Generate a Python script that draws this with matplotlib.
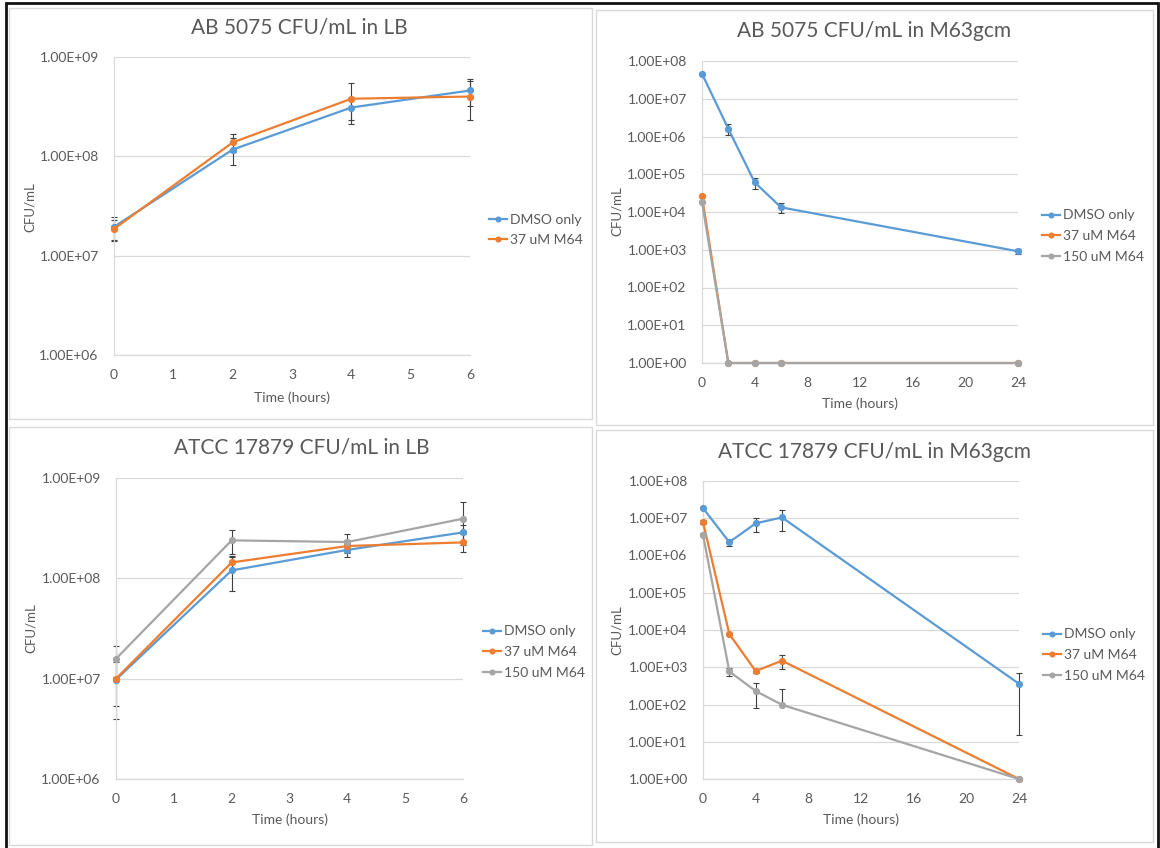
import numpy as np
import matplotlib
matplotlib.use("Agg")
import matplotlib.pyplot as plt
from matplotlib.patches import Rectangle
from matplotlib.ticker import FixedLocator, FuncFormatter, NullLocator

plt.rcParams['font.family'] = ['Lato', 'DejaVu Sans']

# time points
t_lb = [0, 2, 4, 6]
t_m63 = [0, 2, 4, 6, 24]

# AB 5075 in LB
ab_lb_dmso = [1.95e7, 1.17e8, 3.1e8, 4.6e8]
ab_lb_dmso_err = [5e6, 3.6e7, 8e7, 1.4e8]
ab_lb_37 = [1.86e7, 1.38e8, 3.8e8, 4.0e8]
ab_lb_37_err = [4.5e6, 2.8e7, 1.7e8, 1.7e8]

# AB 5075 in M63gcm
ab_m63_dmso = [4.6e7, 1.6e6, 6.1e4, 1.33e4, 9.1e2]
ab_m63_dmso_err = [3e6, 5e5, 2e4, 4e3, 1.5e2]
ab_m63_37 = [2.6e4, 1, 1, 1, 1]
ab_m63_37_err = [0, 0, 0, 0, 0]
ab_m63_150 = [1.85e4, 1, 1, 1, 1]
ab_m63_150_err = [0, 0, 0, 0, 0]

# ATCC 17879 in LB
at_lb_dmso = [9.8e6, 1.2e8, 1.92e8, 2.87e8]
at_lb_dmso_err = [5.8e6, 4.6e7, 2.8e7, 5e7]
at_lb_37 = [1.0e7, 1.44e8, 2.1e8, 2.28e8]
at_lb_37_err = [4.6e6, 2e7, 3e7, 4.6e7]
at_lb_150 = [1.58e7, 2.39e8, 2.3e8, 3.93e8]
at_lb_150_err = [5.5e6, 6.6e7, 4.5e7, 1.8e8]

# ATCC 17879 in M63gcm
at_m63_dmso = [1.87e7, 2.28e6, 7.3e6, 1.05e7, 3.6e2]
at_m63_dmso_err = [1e6, 5e5, 3e6, 6e6, 3.45e2]
at_m63_37 = [7.9e6, 7.8e3, 7.9e2, 1.5e3, 1]
at_m63_37_err = [1e6, 5e2, 1e2, 6e2, 0]
at_m63_150 = [3.6e6, 7.7e2, 2.3e2, 98, 1]
at_m63_150_err = [3e5, 2e2, 1.5e2, 1.7e2, 0]

labels = ['DMSO only', '37 uM M64', '150 uM M64']
colors = ['#5B9BD5', '#ED7D31', '#A5A5A5']

W, H = 1160, 848
fig = plt.figure(figsize=(W / 100, H / 100), dpi=100)
fig.patch.set_facecolor('white')

TXT = '#595959'
GRID = '#d9d9d9'


def px_axes(l, t, r, b):
    return fig.add_axes([l / W, 1 - b / H, (r - l) / W, (b - t) / H])


def fig_text(x, y, s, **kw):
    fig.text(x / W, 1 - y / H, s, color=TXT, ha='center', va='center', **kw)


def panel(box, title, tpos, ylabel_pos, xlabel_pos, x, series, errs, xlim, xticks,
          ylim, leg_pos):
    ax = px_axes(*box)
    for i, (y, e) in enumerate(zip(series, errs)):
        y = np.array(y, dtype=float)
        e = np.array(e, dtype=float)
        lower = np.where(e < y, e, 0)
        eb = ax.errorbar(x, y, yerr=[lower, e], fmt='none', ecolor='#404040',
                         elinewidth=0.8, capsize=2.5, capthick=0.8, zorder=2)
        for art in eb.get_children():
            art.set_clip_on(False)
        ax.plot(x, y, color=colors[i], lw=1.6, marker='o', ms=4.2,
                label=labels[i], zorder=3 + i, clip_on=False)
    ax.set_yscale('log')
    ax.set_xlim(*xlim)
    ax.set_ylim(*ylim)
    decades = [10.0 ** k for k in range(int(np.log10(ylim[0])), int(np.log10(ylim[1])) + 1)]
    ax.yaxis.set_major_locator(FixedLocator(decades))
    ax.yaxis.set_minor_locator(NullLocator())
    ax.yaxis.set_major_formatter(FuncFormatter(lambda v, p: f"{v:.2E}"))
    ax.set_xticks(xticks)
    ax.grid(axis='y', color=GRID, lw=0.9)
    ax.set_axisbelow(True)
    for s in ['top', 'right']:
        ax.spines[s].set_visible(False)
    for s in ['left', 'bottom']:
        ax.spines[s].set_color(GRID)
        ax.spines[s].set_linewidth(0.9)
    ax.tick_params(length=0, labelcolor=TXT, labelsize=10)
    ax.tick_params(axis='y', pad=11)
    ax.tick_params(axis='x', pad=10)
    ax.patch.set_alpha(0)
    fig_text(tpos[0], tpos[1], title, fontsize=15)
    fig_text(ylabel_pos[0], ylabel_pos[1], 'CFU/mL', fontsize=9.5, rotation=90)
    fig_text(xlabel_pos[0], xlabel_pos[1], 'Time (hours)', fontsize=10)
    leg = ax.legend(loc='center left', bbox_to_anchor=(leg_pos[0] / W, 1 - leg_pos[1] / H),
                    bbox_transform=fig.transFigure, frameon=False, fontsize=10,
                    handlelength=1.3, handletextpad=0.2, labelspacing=0.62,
                    borderpad=0, borderaxespad=0, markerscale=0.8)
    for txt in leg.get_texts():
        txt.set_color(TXT)
    return ax


# panel frames and outer border
for (l, t, r, b) in [(9, 8, 592, 419), (596, 10, 1153, 425),
                     (9, 427, 592, 845), (596, 430, 1153, 842)]:
    fig.add_artist(Rectangle((l / W, 1 - b / H), (r - l) / W, (b - t) / H,
                             transform=fig.transFigure, fill=False,
                             edgecolor='#d9d9d9', lw=1))
fig.add_artist(Rectangle((6 / W, -0.01), 1152 / W, 1 - 3 / H + 0.01,
                         transform=fig.transFigure, fill=False,
                         edgecolor='#111111', lw=2))

panel((114, 57, 470, 355), 'AB 5075 CFU/mL in LB', (299, 27), (30, 207), (292, 398),
      t_lb, [ab_lb_dmso, ab_lb_37], [ab_lb_dmso_err, ab_lb_37_err],
      (0, 6), range(0, 7), (1e6, 1e9), (489, 230))

panel((702, 61, 1018, 363), 'AB 5075 CFU/mL in M63gcm', (874, 31), (617, 211), (860, 404),
      t_m63, [ab_m63_dmso, ab_m63_37, ab_m63_150],
      [ab_m63_dmso_err, ab_m63_37_err, ab_m63_150_err],
      (0, 24), range(0, 25, 4), (1, 1e8), (1042, 236))

panel((116, 478, 463, 779), 'ATCC 17879 CFU/mL in LB', (302, 448), (31, 628), (290, 820),
      t_lb, [at_lb_dmso, at_lb_37, at_lb_150],
      [at_lb_dmso_err, at_lb_37_err, at_lb_150_err],
      (0, 6), range(0, 7), (1e6, 1e9), (483, 652))

panel((703, 481, 1019, 779), 'ATCC 17879 CFU/mL in M63gcm', (874, 452), (617, 630), (861, 820),
      t_m63, [at_m63_dmso, at_m63_37, at_m63_150],
      [at_m63_dmso_err, at_m63_37_err, at_m63_150_err],
      (0, 24), range(0, 25, 4), (1, 1e8), (1043, 655))

fig.savefig('out.png', dpi=100)
